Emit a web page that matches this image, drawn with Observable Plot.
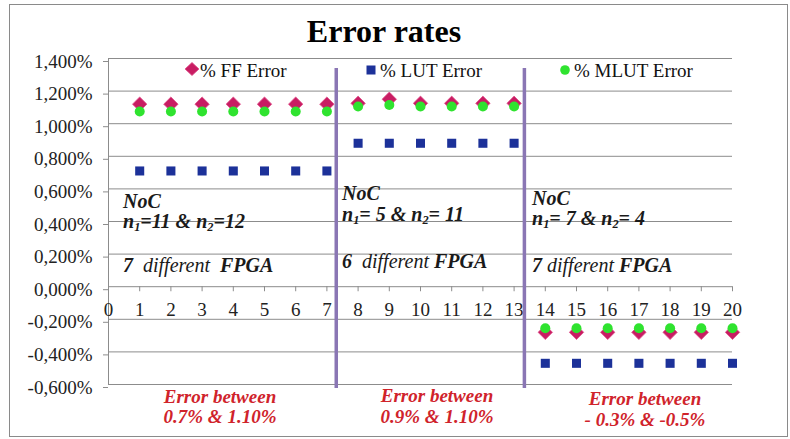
<!DOCTYPE html>
<html>
<head>
<meta charset="utf-8">
<script src="https://cdn.jsdelivr.net/npm/d3@7"></script>
<script src="https://cdn.jsdelivr.net/npm/@observablehq/plot@0.6"></script>
<style>
  html, body { margin: 0; padding: 0; background: #fff; }
  #wrap { position: relative; width: 790px; height: 439px; overflow: hidden; font-family: "Liberation Serif", "Times New Roman", serif; }
  #wrap svg { position: absolute; left: 0; top: 0; font-family: "Liberation Serif", "Times New Roman", serif; }
  .ov { position: absolute; line-height: 1; white-space: pre; font-family: "Liberation Serif", "Times New Roman", serif; }
  .border { position: absolute; left: 9px; top: 4px; width: 777px; height: 431px; border: 1px solid #8a8a8a; pointer-events: none; }
  sub { font-size: 0.62em; vertical-align: -0.28em; line-height: 0; }
</style>
</head>
<body>
<div id="wrap"></div>
<script>
// ---- data ----
const fpgaIndex = [1,2,3,4,5,6,7, 8,9,10,11,12,13, 14,15,16,17,18,19,20];
const ffError   = [1.12,1.12,1.12,1.12,1.12,1.12,1.12, 1.125,1.15,1.125,1.125,1.125,1.125, -0.28,-0.28,-0.28,-0.28,-0.28,-0.28,-0.28];
const lutError  = [0.71,0.71,0.71,0.71,0.71,0.71,0.71, 0.88,0.88,0.88,0.88,0.88,0.88, -0.47,-0.47,-0.47,-0.47,-0.47,-0.47,-0.47];
const mlutError = [1.075,1.075,1.075,1.075,1.075,1.075,1.075, 1.105,1.115,1.105,1.105,1.105,1.105, -0.255,-0.255,-0.255,-0.255,-0.255,-0.255,-0.255];
const xTicks = [0,1,2,3,4,5,6,7,8,9,10,11,12,13,14,15,16,17,18,19,20];
const yTicks = [-0.6,-0.4,-0.2,0,0.2,0.4,0.6,0.8,1.0,1.2,1.4];
const separators = [7.3, 13.33];
const seriesNames = ["% FF Error", "% LUT Error", "% MLUT Error"];
const title = "Error rates";

const rows = fpgaIndex.map((x, i) => ({x, ff: ffError[i], lut: lutError[i], mlut: mlutError[i]}));
const fmt = v => (v < 0 ? "-" : "") + Math.abs(v).toFixed(3).replace(".", ",") + "%";

const gray = "#8c8c8c";
const serif = "'Liberation Serif', 'Times New Roman', serif";

const chart = Plot.plot({
  width: 790,
  height: 439,
  marginLeft: 108,
  marginRight: 58,
  marginTop: 58,
  marginBottom: 55,
  style: {fontFamily: serif, fontSize: "19px", background: "transparent", overflow: "visible"},
  x: {domain: [0, 20], axis: null},
  y: {domain: [-0.6, 1.4]},
  marks: [
    Plot.gridY(yTicks, {stroke: gray, strokeOpacity: 1, strokeWidth: 1}),
    Plot.axisY(yTicks, {tickSize: 5, tickPadding: 11, tickFormat: fmt, label: null, stroke: gray, fill: "#222", fontSize: 19, dy: 3}),
    Plot.ruleX([0], {stroke: gray}),
    Plot.ruleX(xTicks, {x: d => d, y1: 0, y2: -0.031, stroke: gray}),
    Plot.text(xTicks, {x: d => d, y: () => 0, dy: 23, text: d => String(d), fontSize: 19, fill: "#222"}),
    Plot.ruleX(separators, {x: d => d, y1: () => 1.338, y2: () => -0.625, stroke: "#8a76b4", strokeWidth: 3.5}),
    Plot.dot(rows, {x: "x", y: "ff", symbol: "diamond2", r: 6.5, fill: "#c81d63", stroke: "#e0508a", strokeWidth: 0.8}),
    Plot.dot(rows, {x: "x", y: "lut", symbol: "square", r: 5.1, fill: "#1c3199"}),
    Plot.dot(rows, {x: "x", y: "mlut", symbol: "circle", r: 5, fill: "#2fe32f"})
  ]
});

const wrap = document.getElementById("wrap");
wrap.appendChild(chart);

// overlay helper: place text by baseline
function place(html, left, baseline, size, opts = {}) {
  const d = document.createElement("div");
  d.className = "ov";
  d.innerHTML = html;
  d.style.fontSize = size + "px";
  d.style.top = (baseline - 0.8375 * size) + "px";
  d.style.color = opts.color || "#1a1a1a";
  if (opts.weight) d.style.fontWeight = opts.weight;
  if (opts.italic) d.style.fontStyle = "italic";
  if (opts.center) { d.style.left = left + "px"; d.style.transform = "translateX(-50%)"; d.style.textAlign = "center"; }
  else d.style.left = left + "px";
  wrap.appendChild(d);
  return d;
}

// border
const b = document.createElement("div"); b.className = "border"; wrap.appendChild(b);

// title
place(title, 384, 42, 32, {weight: "bold", center: true, color: "#000"});

// legend
function legendItem(svg, mx, my, tx, label) {
  const s = document.createElement("div");
  s.style.position = "absolute"; s.style.left = (mx - 8) + "px"; s.style.top = (my - 8) + "px";
  s.innerHTML = `<svg width="16" height="16" viewBox="-8 -8 16 16">${svg}</svg>`;
  wrap.appendChild(s);
  place(label, tx, 77, 19, {color: "#111"});
}
legendItem('<path d="M0,-6.5L7,0L0,6.5L-7,0Z" fill="#c81d63" stroke="#e0508a" stroke-width="0.8"/>', 192, 69, 200, seriesNames[0]);
legendItem('<rect x="-4.5" y="-4.5" width="9" height="9" fill="#1c3199"/>', 371, 70, 380, seriesNames[1]);
legendItem('<circle r="4.8" fill="#2fe32f"/>', 565, 70, 574, seriesNames[2]);

// group annotations
const bi = {weight: "bold", italic: true};
place("NoC", 123, 208, 20, bi);
place("n<sub>1</sub>=11 &amp; n<sub>2</sub>=12", 123, 228, 20, bi);
place('7  <span style="font-weight:normal">different</span>  FPGA', 123, 272, 20, bi);

place("NoC", 342, 200, 20, bi);
place("n<sub>1</sub>= 5 &amp; n<sub>2</sub>= 11", 342, 221, 20, bi);
place('6  <span style="font-weight:normal">different</span> FPGA', 342, 268, 20, bi);

place("NoC", 532, 205, 20, bi);
place("n<sub>1</sub>= 7 &amp; n<sub>2</sub>= 4", 532, 225, 20, bi);
place('7 <span style="font-weight:normal">different</span> FPGA', 532, 272, 20, bi);

// red notes
const red = {weight: "bold", italic: true, color: "#d0232b", center: true};
place("Error between", 220, 403, 19, red);
place("0.7% &amp; 1.10%", 220, 423, 19, red);
place("Error between", 437, 402, 19, red);
place("0.9% &amp; 1.10%", 437, 423, 19, red);
place("Error between", 645, 405, 19, red);
place("- 0.3% &amp; -0.5%", 645, 426, 19, red);
</script>
</body>
</html>
